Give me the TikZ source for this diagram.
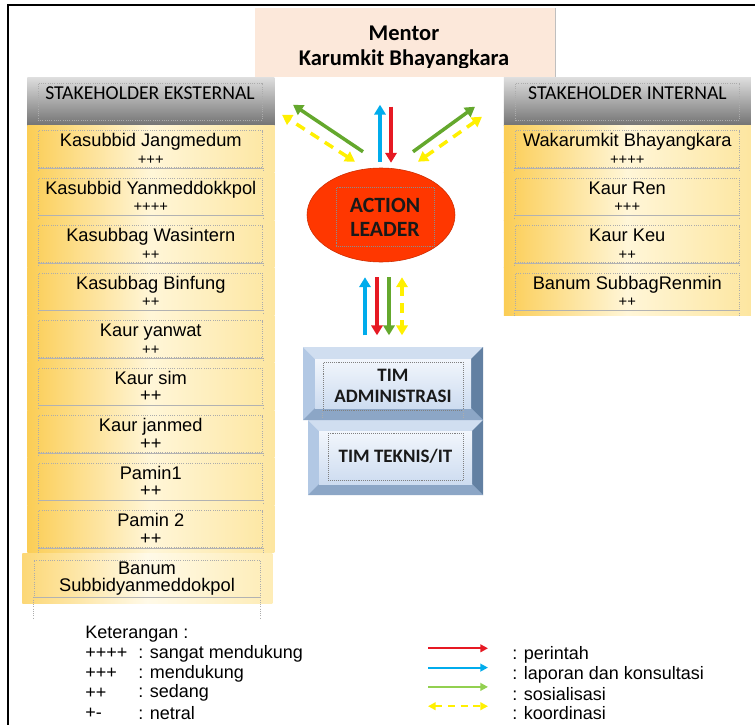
\documentclass[tikz,border=0pt]{standalone}
\usepackage{fontspec}
\setmainfont{Liberation Sans}
\newfontfamily\calfont{Carlito}
\usepackage{tikz}
\usetikzlibrary{shapes.geometric, positioning, arrows.meta, calc}
\definecolor{MentorPeach}{RGB}{252,232,218}
\definecolor{BandGold}{RGB}{251,205,85}
\definecolor{BandLight}{RGB}{255,246,216}
\definecolor{BandSoft}{RGB}{253,230,160}
\definecolor{HeadDark}{RGB}{115,115,115}
\definecolor{HeadLight}{RGB}{222,222,222}
\definecolor{LeaderRed}{RGB}{255,55,0}
\definecolor{ArrRed}{RGB}{230,25,35}
\definecolor{ArrBlue}{RGB}{0,172,236}
\definecolor{ArrGreen}{RGB}{100,168,45}
\definecolor{LgGreen}{RGB}{146,208,80}
\definecolor{ArrYellow}{RGB}{255,240,0}
\definecolor{BevelTop}{RGB}{208,222,240}
\definecolor{BevelSide}{RGB}{178,200,228}
\definecolor{BevelBot}{RGB}{140,166,198}
\definecolor{BevelDark}{RGB}{98,128,162}
\definecolor{FaceTop}{RGB}{242,246,252}
\definecolor{FaceBot}{RGB}{205,220,240}

\newcommand{\plsm}[1]{{\fontsize{10.5}{11}\selectfont #1}}
% bevelled box: x1, y1, x2, y2, bevel
\newcommand{\bevelbox}[5]{%
  \fill[BevelSide] (#1,#2) rectangle (#3,#4);
  \fill[BevelTop] (#1,#2) -- (#3,#2) -- (#3-#5,#2+#5) -- (#1+#5,#2+#5) -- cycle;
  \fill[BevelDark] (#3,#2) -- (#3,#4) -- (#3-#5,#4-#5) -- (#3-#5,#2+#5) -- cycle;
  \fill[BevelBot] (#1,#4) -- (#3,#4) -- (#3-#5,#4-#5) -- (#1+#5,#4-#5) -- cycle;
  \fill[top color=FaceTop, bottom color=FaceBot] (#1+#5,#2+#5) rectangle (#3-#5,#4-#5);
}

\begin{document}
\begin{tikzpicture}[x=0.25mm, y=-0.25mm,
    band/.style={rectangle, anchor=north west, inner sep=0pt,
                 minimum width=61.75mm, minimum height=11.875mm,
                 left color=BandGold, right color=BandSoft, middle color=BandLight},
    hdband/.style={rectangle, anchor=north west, inner sep=0pt,
                   minimum width=61.75mm, minimum height=12mm,
                   top color=HeadLight, bottom color=HeadDark},
    inbox/.style={rectangle, draw=gray!65, densely dotted, line width=0.6pt,
                  minimum width=56mm, minimum height=9.25mm, inner sep=1pt,
                  align=center, font=\fontsize{13}{12.5}\selectfont},
    boxline/.style={draw=gray!65, densely dotted, line width=0.6pt},
    hdtext/.style={font=\calfont\fontsize{14}{16}\selectfont, text=black},
    mentorbox/.style={rectangle, anchor=north west, fill=MentorPeach,
                      minimum width=75mm, minimum height=17.25mm},
    mentortext/.style={font=\calfont\bfseries\fontsize{16}{18}\selectfont,
                       anchor=base, inner sep=0pt},
    leader/.style={ellipse, fill=LeaderRed, draw=LeaderRed!80!black,
                   minimum width=37mm, minimum height=23.5mm},
    leadtext/.style={rectangle, draw=black!45, densely dotted, align=center,
                     minimum width=24.5mm, minimum height=14.75mm, text=black!90,
                     font=\calfont\bfseries\fontsize{15.5}{17}\selectfont},
    timtext/.style={rectangle, draw=black!50, densely dotted, align=center,
                    text=black!90, font=\calfont\bfseries\fontsize{13.5}{15}\selectfont},
    arrRed/.style={-{Triangle[length=7pt,width=8pt]}, line width=2.5pt, ArrRed},
    arrBlue/.style={-{Triangle[length=7pt,width=8pt]}, line width=2.5pt, ArrBlue},
    arrGreen/.style={-{Triangle[length=7pt,width=8pt]}, line width=2.5pt, ArrGreen},
    arrYel/.style={{Triangle[length=7pt,width=8pt]}-{Triangle[length=7pt,width=8pt]},
                   line width=2.5pt, ArrYellow, dash pattern=on 7pt off 5pt},
    lgtext/.style={anchor=west, inner sep=0pt, font=\fontsize{12.8}{15}\selectfont},
    lgRed/.style={-{Triangle[length=5.5pt,width=5.5pt]}, line width=1.5pt, ArrRed},
    lgBlue/.style={-{Triangle[length=5.5pt,width=5.5pt]}, line width=1.5pt, ArrBlue},
    lgGreen/.style={-{Triangle[length=5.5pt,width=5.5pt]}, line width=1.5pt, LgGreen},
    lgYel/.style={{Triangle[length=5.5pt,width=5.5pt]}-{Triangle[length=5.5pt,width=5.5pt]},
                  line width=1.5pt, ArrYellow, dash pattern=on 5pt off 4pt}
  ]
  \useasboundingbox[fill=white] (0,0) rectangle (755,725);
  % frame
  \draw[line width=0.55mm] (8,725) -- (8,5) -- (755,5);

  % Mentor
  \node[mentorbox] (mentor) at (255,8) {};
  \draw[black!25, line width=0.8pt] (mentor.north east) -- (mentor.south east);
  \begin{scope}
    \clip (255,8) rectangle (555,67);
    \node[mentortext] (mentor1) at (404,40) {Mentor};
    \node[mentortext] (mentor2) at (404,65) {Karumkit Bhayangkara};
  \end{scope}

  % Stakeholder eksternal
  \node[hdband] (exthd) at (27,77) {};
  \node[inbox] (exthdin) at (150,101.5) {};
  \node[hdtext] (exthdtx) at ($(exthdin.north)+(0,11)$) {STAKEHOLDER EKSTERNAL};
  \foreach \txt [count=\i] in {
      {Kasubbid Jangmedum\\\plsm{+++}},
      {Kasubbid Yanmeddokkpol\\\plsm{++++}},
      {Kasubbag Wasintern\\\plsm{++}},
      {Kasubbag Binfung\\\plsm{++}},
      {Kaur yanwat\\\plsm{++}},
      {Kaur sim\\++},
      {Kaur janmed\\++},
      {Pamin1\\++},
      {Pamin 2\\++}}{
    \node[band] (ext\i) at (27,77.5+47.5*\i) {};
    \node[inbox] (extin\i) at (ext\i.center) {\txt};
    \draw[gray!60, line width=0.6pt] (extin\i.south west) -- (extin\i.south east);
    \draw[boxline] (extin\i.south west) -- ++(0,5) (extin\i.south east) -- ++(0,5);
  }
  \node[band, minimum width=62.5mm, minimum height=12.5mm,
        left color=BandGold!75!BandLight, right color=BandSoft!60!BandLight,
        middle color=BandLight!60!white] (ext10) at (22,553) {};
  \node[inbox, minimum width=56.5mm] (extin10) at (147,578.5)
       {Banum\\Subbidyanmeddokpol};
  \draw[gray!60, line width=0.6pt] (extin10.south west) -- (extin10.south east);
  \draw[boxline] (extin10.south west) -- ++(0,21) (extin10.south east) -- ++(0,21);

  % Stakeholder internal
  \node[hdband] (inthd) at (503.5,77) {};
  \node[inbox] (inthdin) at (627.5,101.5) {};
  \node[hdtext] (inthdtx) at ($(inthdin.north)+(0,11)$) {STAKEHOLDER INTERNAL};
  \foreach \txt [count=\i] in {
      {Wakarumkit Bhayangkara\\\plsm{++++}},
      {Kaur Ren\\\plsm{+++}},
      {Kaur Keu\\\plsm{++}},
      {Banum SubbagRenmin\\\plsm{++}}}{
    \node[band] (int\i) at (503.5,77.5+47.5*\i) {};
    \node[inbox] (intin\i) at (int\i.center) {\txt};
    \draw[gray!60, line width=0.6pt] (intin\i.south west) -- (intin\i.south east);
    \draw[boxline] (intin\i.south west) -- ++(0,5) (intin\i.south east) -- ++(0,5);
  }

  % Action leader
  \node[leader] (leader) at (381,215) {};
  \node[leadtext] (leaderin) at ($(leader.center)+(4,2)$) {ACTION\\LEADER};

  % Tim
  \bevelbox{308}{420}{483}{495}{11}
  \bevelbox{303}{347}{483}{420}{12}
  \node[timtext, minimum width=33.75mm, minimum height=11.75mm] (teknis)
       at (395.5,456.5) {TIM TEKNIS/IT};
  \node[timtext, minimum width=35mm, minimum height=12mm] (admin)
       at (393,386) {TIM\\ADMINISTRASI};
  \draw[boxline] (admin.south west) -- ++(0,8) (admin.south east) -- ++(0,8);

  % arrows above the leader
  \draw[arrBlue] ($(leader.north)+(-1,-6)$) -- ($(leader.north)+(-1,-63)$);
  \draw[arrRed] ($(leader.north)+(10,-61)$) -- ($(leader.north)+(10,-5)$);
  \draw[arrGreen] ($(leader.north)+(-18,-16)$) -- ($(leader.north)+(-88,-63)$);
  \draw[arrYel] ($(leader.north)+(-26,-6)$) -- ($(leader.north)+(-99,-53)$);
  \draw[arrGreen] ($(leader.north)+(32,-16)$) -- ($(leader.north)+(94,-61)$);
  \draw[arrYel] ($(leader.north)+(37,-6)$) -- ($(leader.north)+(101,-51)$);

  % arrows to the tim
  \draw[arrBlue] ($(leader.south)+(-16,73)$) -- ($(leader.south)+(-16,15)$);
  \draw[arrRed] ($(leader.south)+(-4,15)$) -- ($(leader.south)+(-4,73)$);
  \draw[arrGreen] ($(leader.south)+(8,15)$) -- ($(leader.south)+(8,73)$);
  \draw[arrYel] ($(leader.south)+(21,15)$) -- ($(leader.south)+(21,73)$);

  % Keterangan
  \node[lgtext] (keter) at (85,634) {Keterangan :};
  \foreach \sym/\desc [count=\k] in {++++/sangat mendukung, +++/mendukung,
                                     ++/sedang, +-/netral}{
    \node[lgtext] (sym\k) at (85,634+19.7*\k) {\sym};
    \node[lgtext] (desc\k) at (138,634+19.7*\k) {: \desc};
  }
  \foreach \lab/\sty [count=\k] in {perintah/lgRed, laporan dan konsultasi/lgBlue,
                                    sosialisasi/lgGreen, koordinasi/lgYel}{
    \node[lgtext] (key\k) at (512,636+19.3*\k) {: \lab};
    \draw[\sty] ($(key\k.west)+(-84,-7)$) -- ($(key\k.west)+(-24,-7)$);
  }
\end{tikzpicture}
\end{document}
